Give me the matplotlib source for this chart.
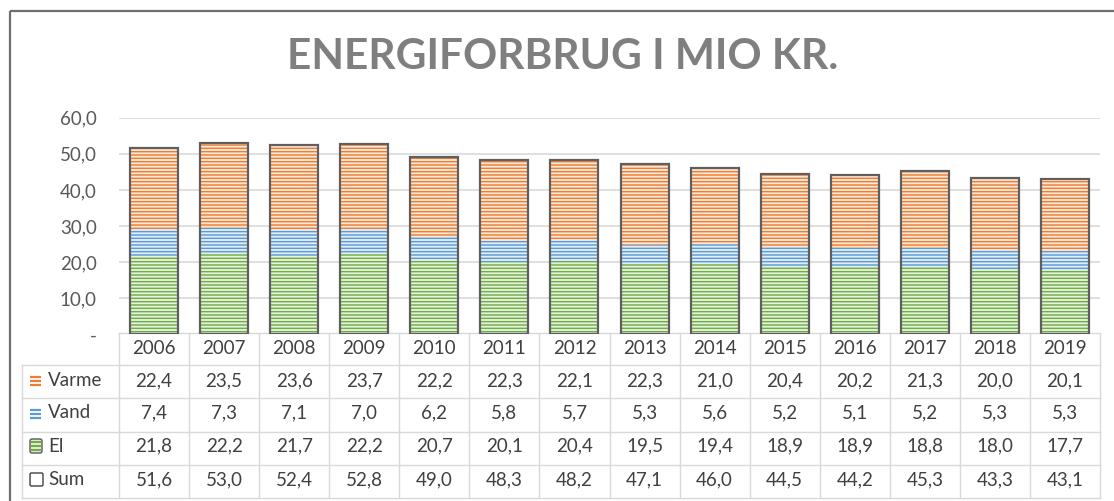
import matplotlib
matplotlib.use("Agg")
import matplotlib.pyplot as plt
import matplotlib.transforms as mtransforms
from matplotlib.patches import Rectangle, FancyBboxPatch
from matplotlib.lines import Line2D

# ---------------- data ----------------
years = ["2006", "2007", "2008", "2009", "2010", "2011", "2012",
         "2013", "2014", "2015", "2016", "2017", "2018", "2019"]
varme = [22.4, 23.5, 23.6, 23.7, 22.2, 22.3, 22.1, 22.3, 21.0, 20.4, 20.2, 21.3, 20.0, 20.1]
vand = [7.4, 7.3, 7.1, 7.0, 6.2, 5.8, 5.7, 5.3, 5.6, 5.2, 5.1, 5.2, 5.3, 5.3]
el = [21.8, 22.2, 21.7, 22.2, 20.7, 20.1, 20.4, 19.5, 19.4, 18.9, 18.9, 18.8, 18.0, 17.7]
total = [51.6, 53.0, 52.4, 52.8, 49.0, 48.3, 48.2, 47.1, 46.0, 44.5, 44.2, 45.3, 43.3, 43.1]
series_names = ["Varme", "Vand", "El", "Sum"]
yticks = [0, 10, 20, 30, 40, 50, 60]
title = "ENERGIFORBRUG I MIO KR."

# ---------------- style ----------------
W, H = 1114, 501
FONT = "Lato"
FS = 13.5
c_varme, c_vand, c_el = "#ED7D31", "#5B9BD5", "#70AD47"
f_varme, f_vand, f_el = "#FCE9DC", "#E3EEF8", "#E6F2DE"
grid_c = "#D9D9D9"
txt_c = "#404040"
tick_c = "#595959"
plt.rcParams["hatch.linewidth"] = 1.05
HATCH = "-----"

fig = plt.figure(figsize=(W / 100, H / 100), dpi=100)

def fx(px):
    return px / W

def fy(py):
    return 1 - py / H

# overlay (pixel coordinates, y downward)
over = fig.add_axes([0, 0, 1, 1], zorder=0)
over.set_xlim(0, W)
over.set_ylim(H, 0)
over.axis("off")

# chart main axes
L, R, T, B = 119, 1100, 117.7, 334.3
ax = fig.add_axes([fx(L), fy(B), fx(R - L), (B - T) / H], zorder=1)
ax.patch.set_alpha(0)
n = len(years)
xs = list(range(n))
ax.set_xlim(-0.5, n - 0.5)
ax.set_ylim(0, 60)
for s in ax.spines.values():
    s.set_visible(False)
ax.set_xticks([])
ax.set_yticks(yticks)
ax.set_yticklabels(["-"] + [f"{v:.1f}".replace(".", ",") for v in yticks[1:]],
                   fontsize=FS, color=tick_c, family=FONT)
ax.tick_params(axis="y", length=0, pad=16)
for v in yticks[1:]:
    ax.axhline(v, color=grid_c, lw=1.2, zorder=0)

bw = 0.685
bottom2 = el
bottom3 = [a + b for a, b in zip(el, vand)]
ax.bar(xs, el, width=bw, color=f_el, edgecolor=c_el, hatch=HATCH, linewidth=0, zorder=2)
ax.bar(xs, vand, width=bw, bottom=bottom2, color=f_vand, edgecolor=c_vand,
       hatch=HATCH, linewidth=0, zorder=2)
ax.bar(xs, varme, width=bw, bottom=bottom3, color=f_varme, edgecolor=c_varme,
       hatch=HATCH, linewidth=0, zorder=2)
ax.bar(xs, total, width=bw, facecolor="none", edgecolor="#5F5F5F", linewidth=1.6, zorder=3)

# ---------------- data table ----------------
tr = mtransforms.blended_transform_factory(ax.transData, over.transData)
rows_y = [333, 365, 398, 432, 465, 498]
tab_left = 22
lw_t = 1.0
over.plot([L, R], [rows_y[0]] * 2, color=grid_c, lw=lw_t)
for yv in rows_y[1:]:
    over.plot([tab_left, R], [yv, yv], color=grid_c, lw=lw_t)
over.plot([tab_left, tab_left], [rows_y[1], rows_y[-1]], color=grid_c, lw=lw_t)
for i in range(n + 1):
    xline = Line2D([i - 0.5, i - 0.5], [rows_y[0], rows_y[-1]], color=grid_c,
                   lw=lw_t, transform=tr)
    over.add_line(xline)

tkw = dict(fontsize=FS, color=txt_c, family=FONT, ha="center", va="center")
hdr_y = 348
row_centers = [380.5, 413, 446, 479.5]
for i, yr in enumerate(years):
    over.text(i, hdr_y, yr, transform=tr, **tkw)
for vals, yc in zip([varme, vand, el, total], row_centers):
    for i, v in enumerate(vals):
        over.text(i, yc, f"{v:.1f}".replace(".", ","), transform=tr, **tkw)

# row labels with legend keys
for name, yc in zip(series_names, row_centers):
    over.text(48, yc, name, fontsize=FS, color=txt_c, family=FONT, ha="left", va="center")

def line_key(color, yc):
    for dy in (-4, 0, 4):
        over.plot([30, 41], [yc + dy, yc + dy], color=color, lw=1.6, solid_capstyle="butt")

line_key(c_varme, 381)
line_key(c_vand, 414)
over.add_patch(FancyBboxPatch((30, 439), 12, 14, boxstyle="round,pad=0,rounding_size=2",
                              facecolor=f_el, edgecolor="#595959", lw=1.0))
for dy in (442, 446, 450):
    over.plot([31, 41], [dy, dy], color=c_el, lw=1.6, solid_capstyle="butt")
over.add_patch(FancyBboxPatch((30, 473), 13, 13, boxstyle="round,pad=0,rounding_size=1.5",
                              facecolor="white", edgecolor="#404040", lw=1.0))

# outer border of chart area
over.add_patch(Rectangle((9.5, 11), 1200, 600, facecolor="none", edgecolor="#6E6E6E", lw=1.6))

# title, fitted to its width in the reference
t = over.text(563, 57, title, fontsize=30, fontweight="bold", color="#7F7F7F",
              family=FONT, ha="center", va="center")
fig.canvas.draw()
bb = t.get_window_extent()
target_w = 551
t.set_fontsize(30 * target_w / bb.width)

fig.savefig("out.png", dpi=100)
